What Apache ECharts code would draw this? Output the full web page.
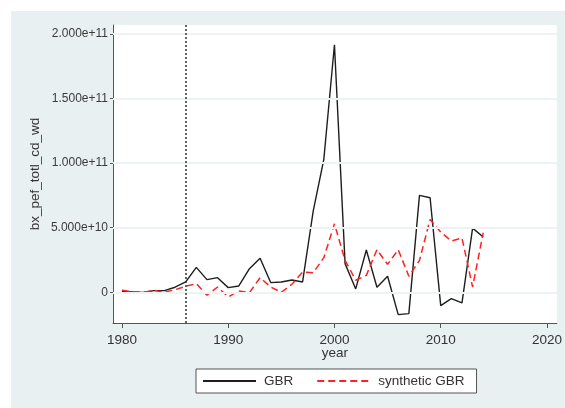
<!DOCTYPE html>
<html>
<head>
<meta charset="utf-8">
<script src="https://cdn.jsdelivr.net/npm/echarts@6/dist/echarts.min.js"></script>
<style>
  html, body { margin: 0; padding: 0; background: #ffffff; width: 565px; height: 408px; overflow: hidden; }
  #chart { position: absolute; left: 11px; top: 11px; width: 554px; height: 397px; background: #e9f0f2; }
</style>
</head>
<body>
<div id="chart"></div>
<script>
const years = [1980, 1981, 1982, 1983, 1984, 1985, 1986, 1987, 1988, 1989,
               1990, 1991, 1992, 1993, 1994, 1995, 1996, 1997, 1998, 1999,
               2000, 2001, 2002, 2003, 2004, 2005, 2006, 2007, 2008, 2009,
               2010, 2011, 2012, 2013, 2014];
const gbr = [0.5e9, 0.3e9, -0.2e9, 1.3e9, 1.3e9, 3.9e9, 8.0e9, 19.3e9, 9.8e9, 11.3e9,
             3.6e9, 4.9e9, 18.3e9, 26.3e9, 7.5e9, 8.0e9, 9.5e9, 8.0e9, 62.9e9, 103e9,
             191.7e9, 22.2e9, 2.6e9, 32.7e9, 3.9e9, 12.4e9, -17.3e9, -16.5e9, 75e9, 73.2e9,
             -10.3e9, -4.9e9, -8.2e9, 49.7e9, 42.8e9];
const synthetic = [1.5e9, 0.5e9, 0, 1.5e9, 0, 2.0e9, 4.6e9, 6.7e9, -2.3e9, 4.1e9,
                   -3.6e9, 1.0e9, -0.3e9, 11.3e9, 4.1e9, 0, 6.2e9, 15.7e9, 15.2e9, 26.8e9,
                   53e9, 24.7e9, 9.3e9, 13.1e9, 33e9, 21.6e9, 33e9, 12.4e9, 24.7e9, 56.4e9,
                   46.6e9, 39.7e9, 42e9, 4.1e9, 46.1e9];
const yTicks = [0, 5e10, 1e11, 1.5e11, 2e11];
const xTicks = [1980, 1990, 2000, 2010, 2020];
const treatmentYear = 1986;
const seriesNames = ['GBR', 'synthetic GBR'];
const yTitle = 'bx_pef_totl_cd_wd';
const xTitle = 'year';

const font = '"Liberation Sans", Arial, sans-serif';
const chart = echarts.init(document.getElementById('chart'), null, { renderer: 'canvas' });

const pairs = (xs, ys) => xs.map((x, i) => [x, ys[i]]);

chart.setOption({
  animation: false,
  backgroundColor: '#e9f0f2',
  grid: {
    left: 102, top: 14, right: 3, bottom: 85,
    show: true, backgroundColor: '#ffffff', borderWidth: 0
  },
  xAxis: {
    type: 'value',
    min: 1979.16, max: 2020.93,
    name: xTitle,
    nameLocation: 'middle',
    nameMoveOverlap: false,
    nameGap: 23,
    nameTextStyle: { fontFamily: font, fontSize: 13.5, color: '#333' },
    axisLine: { show: true, onZero: false, lineStyle: { color: '#555', width: 1 } },
    axisTick: { show: true, length: 5, lineStyle: { color: '#555' }, customValues: xTicks },
    axisLabel: { fontFamily: font, fontSize: 13.5, color: '#333', margin: 10, customValues: xTicks,
                 formatter: v => String(v) },
    splitLine: { show: false }
  },
  yAxis: {
    type: 'value',
    min: -2.38e10, max: 2.07e11,
    name: yTitle,
    nameLocation: 'middle',
    nameMoveOverlap: false,
    nameGap: 71,
    nameTextStyle: { fontFamily: font, fontSize: 13.5, color: '#333' },
    axisLine: { show: true, lineStyle: { color: '#555', width: 1 } },
    axisTick: { show: true, length: 3, lineStyle: { color: '#555' }, customValues: yTicks },
    axisLabel: {
      fontFamily: font, fontSize: 12, color: '#3a3a3a', margin: 5, customValues: yTicks,
      formatter: v => (v === 0 ? '0' : v.toExponential(3))
    },
    splitLine: { show: false }
  },
  legend: {
    left: 185, top: 358,
    orient: 'horizontal',
    data: seriesNames,
    itemWidth: 53, itemHeight: 14, itemGap: 23,
    padding: [5, 12, 5, 6],
    borderColor: '#555', borderWidth: 1,
    backgroundColor: '#ffffff',
    itemStyle: { opacity: 0 },
    textStyle: { fontFamily: font, fontSize: 13.5, color: '#333', padding: [0, 0, 0, 3] }
  },
  series: [
    {
      name: '_grid', type: 'line', data: [], z: 1, silent: true,
      markLine: {
        silent: true, symbol: 'none', label: { show: false },
        emphasis: { disabled: true },
        lineStyle: { color: '#edf3f5', width: 2, type: 'solid', opacity: 1 },
        data: yTicks.map(v => ({ yAxis: v }))
      }
    },
    {
      name: '_treat', type: 'line', data: [], z: 2, silent: true,
      markLine: {
        silent: true, symbol: 'none', label: { show: false },
        emphasis: { disabled: true },
        lineStyle: { color: '#333', width: 1.5, type: [2, 2], opacity: 1 },
        data: [{ xAxis: treatmentYear }]
      }
    },
    {
      name: seriesNames[0], type: 'line', data: pairs(years, gbr),
      showSymbol: false, symbol: 'none', z: 3,
      lineStyle: { color: '#1e1e1e', width: 1.4, type: 'solid' },
      itemStyle: { color: '#1e1e1e' }
    },
    {
      name: seriesNames[1], type: 'line', data: pairs(years, synthetic),
      showSymbol: false, symbol: 'none', z: 4,
      lineStyle: { color: '#ff2020', width: 1.5, type: [7, 4] },
      itemStyle: { color: '#ff2020' }
    }
  ]
});
</script>
</body>
</html>
